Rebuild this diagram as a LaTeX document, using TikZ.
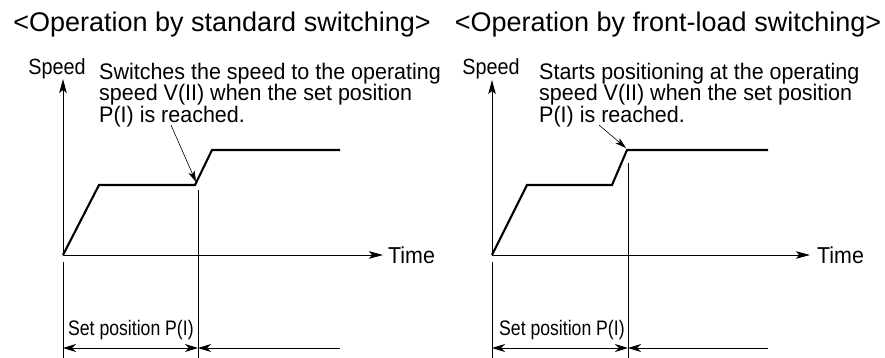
\documentclass[tikz,border=0pt]{standalone}
\usepackage{fontspec}
\setmainfont{Liberation Sans}
\usetikzlibrary{arrows.meta}
\begin{document}
\begin{tikzpicture}[x=1pt,y=-1pt,
  axis/.style={line width=0.9pt,-{Stealth[length=14pt,width=7.5pt,inset=3pt]}},
  curve/.style={line width=2.1pt,line join=miter},
  thin/.style={line width=0.9pt},
  dimboth/.style={line width=0.9pt,{Stealth[length=13pt,width=8pt,inset=4pt]}-{Stealth[length=13pt,width=8pt,inset=4pt]}},
  dimleft/.style={line width=0.9pt,{Stealth[length=13pt,width=8pt,inset=4pt]}-},
  pointer/.style={line width=0.6pt,-{Stealth[length=11pt,width=6.5pt,inset=2.5pt]}},
  title/.style={inner sep=0pt,anchor=base,font=\fontsize{27}{30}\selectfont},
  lbl/.style={inner sep=0pt,xscale=0.9,font=\fontsize{22}{24}\selectfont},
  timelbl/.style={inner sep=0pt,anchor=base west,xscale=0.93,font=\fontsize{23}{24}\selectfont},
  note/.style={inner sep=0pt,anchor=north west,align=left,xscale=0.955,font=\fontsize{22.5}{16.5}\selectfont},
  setpos/.style={inner sep=0pt,anchor=base west,xscale=0.84,font=\fontsize{21}{22}\selectfont}]
\useasboundingbox (0,0) rectangle (885,358);

% ---------- left diagram ----------
\node[title] (t1) at (222,32) {<Operation by standard switching>};
\node[lbl,anchor=base] (sp1) at (57,75) {Speed};
\node[note] (n1) at (99,62.5) {Switches the speed to the operating\\speed V(II) when the set position\\P(I) is reached.};
\coordinate (o1) at (63,255);
\coordinate (y1) at (63,79);
\coordinate (x1) at (383,255);
\node[timelbl] (tm1) at (388,263) {Time};
\draw[axis] (o1) -- (y1);
\draw[axis] (o1) -- (x1);
\coordinate (a1) at (99,185);
\coordinate (b1) at (195,185);
\coordinate (c1) at (212,150);
\coordinate (d1) at (340,150);
\draw[curve] (o1) -- (a1) -- (b1) -- (c1) -- (d1);
\coordinate (v1t) at (198,190);
\coordinate (v1b) at (198,358);
\draw[thin] (v1t) -- (v1b);
\coordinate (e1t) at (63,262);
\coordinate (e1b) at (63,358);
\draw[thin] (e1t) -- (e1b);
\coordinate (m1a) at (63,348);
\coordinate (m1b) at (198,348);
\coordinate (m1c) at (340,348);
\draw[dimboth] (m1a) -- (m1b);
\draw[dimleft] (m1b) -- (m1c);
\node[setpos] (s1) at (68,335) {Set position P(I)};
\coordinate (p1s) at (171,125);
\coordinate (p1e) at (196,182);
\draw[pointer] (p1s) -- (p1e);

% ---------- right diagram ----------
\node[title] (t2) at (668,32) {<Operation by front-load switching>};
\node[lbl,anchor=base] (sp2) at (491,75) {Speed};
\node[note] (n2) at (539,62.5) {Starts positioning at the operating\\speed V(II) when the set position\\P(I) is reached.};
\coordinate (o2) at (492,255);
\coordinate (y2) at (492,80);
\coordinate (x2) at (810,255);
\node[timelbl] (tm2) at (817,263) {Time};
\draw[axis] (o2) -- (y2);
\draw[axis] (o2) -- (x2);
\coordinate (a2) at (527,185);
\coordinate (b2) at (612,185);
\coordinate (c2) at (627,150);
\coordinate (d2) at (768,150);
\draw[curve] (o2) -- (a2) -- (b2) -- (c2) -- (d2);
\coordinate (v2t) at (628,163);
\coordinate (v2b) at (628,358);
\draw[thin] (v2t) -- (v2b);
\coordinate (e2t) at (492,262);
\coordinate (e2b) at (492,358);
\draw[thin] (e2t) -- (e2b);
\coordinate (m2a) at (492,348);
\coordinate (m2b) at (628,348);
\coordinate (m2c) at (768,348);
\draw[dimboth] (m2a) -- (m2b);
\draw[dimleft] (m2b) -- (m2c);
\node[setpos] (s2) at (499,335) {Set position P(I)};
\coordinate (p2s) at (599,125);
\coordinate (p2e) at (626,148);
\draw[pointer] (p2s) -- (p2e);
\end{tikzpicture}
\end{document}
